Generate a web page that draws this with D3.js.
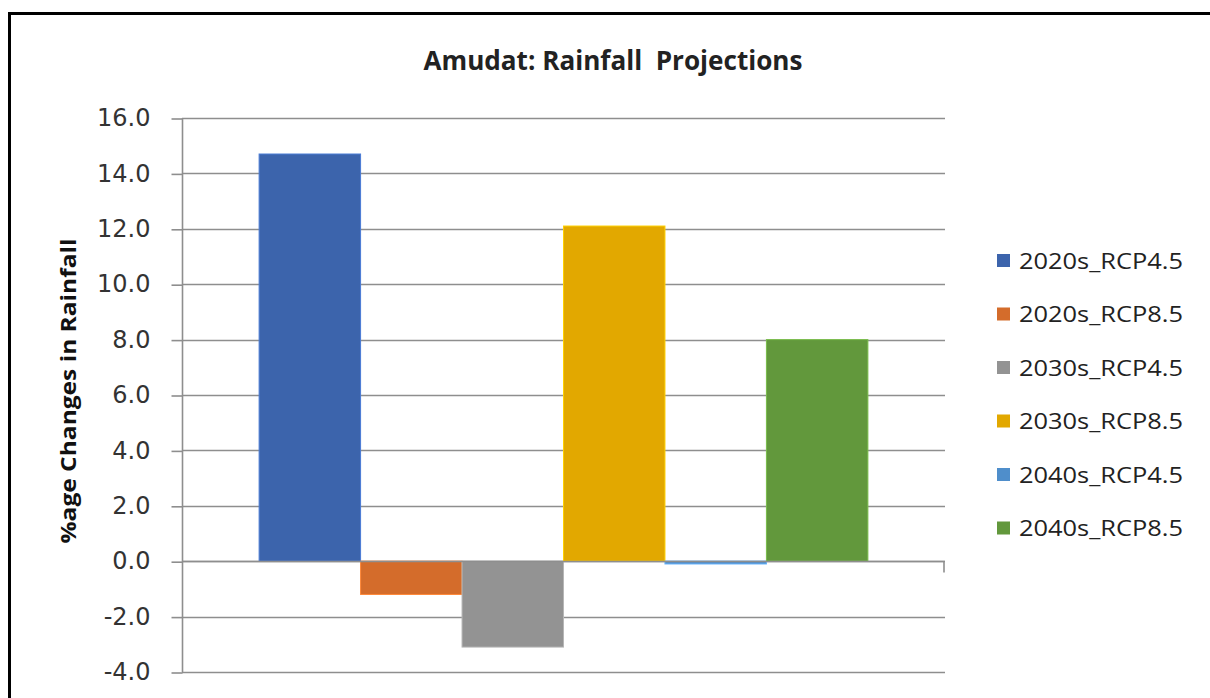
<!DOCTYPE html>
<html>
<head>
<meta charset="utf-8">
<script src="https://cdn.jsdelivr.net/npm/d3@7"></script>
<style>
  html, body { margin: 0; padding: 0; background: #fff; }
  svg { display: block; }
</style>
</head>
<body>
<svg id="chart" width="1210" height="698"></svg>
<script>
// Projected % change in rainfall for Amudat, one value per period/scenario
const categories = ["Amudat"];
const seriesNames = ["2020s_RCP4.5", "2020s_RCP8.5", "2030s_RCP4.5", "2030s_RCP8.5", "2040s_RCP4.5", "2040s_RCP8.5"];
const seriesValues = [14.7, -1.2, -3.1, 12.1, -0.1, 8.0];
const seriesColors = ["#3c64ac", "#d46c2b", "#939393", "#e2a800", "#4f8ecb", "#62983c"];
const yTicks = [-4, -2, 0, 2, 4, 6, 8, 10, 12, 14, 16];

const svg = d3.select("#chart");

// frame around the whole chart
svg.append("path")
  .attr("d", "M9.5,720 V13.5 H1230")
  .attr("fill", "none")
  .attr("stroke", "#000")
  .attr("stroke-width", 3);

const plot = { left: 182, right: 945, top: 118, bottom: 672 };

const y = d3.scaleLinear().domain([-4, 16]).range([plot.bottom, plot.top]);
const x0 = d3.scaleBand().domain(categories).range([plot.left, plot.right]).padding(0);
const x1 = d3.scaleBand().domain(seriesNames).range([0, x0.bandwidth()])
  .paddingInner(0).paddingOuter(0.76);

// horizontal gridlines
svg.append("g")
  .selectAll("line")
  .data(yTicks)
  .join("line")
  .attr("x1", plot.left).attr("x2", plot.right)
  .attr("y1", d => Math.round(y(d)) + 0.5).attr("y2", d => Math.round(y(d)) + 0.5)
  .attr("stroke", "#8e8e8e")
  .attr("stroke-width", 1.6);

// value axis (plain hyphen for negatives, one decimal)
const yAxis = d3.axisLeft(y)
  .tickValues(yTicks)
  .tickFormat(d => d.toFixed(1))
  .tickSize(11)
  .tickPadding(21);

const yg = svg.append("g")
  .attr("transform", `translate(${plot.left + 0.5},0)`)
  .call(yAxis);
yg.select(".domain").attr("stroke", "#8e8e8e").attr("stroke-width", 1.6)
  .attr("d", `M0,${plot.top}V${plot.bottom}`);
yg.selectAll(".tick line").attr("stroke", "#8e8e8e").attr("stroke-width", 1.6)
  .attr("transform", "translate(0,0.5)");
yg.selectAll(".tick text")
  .attr("fill", "#333")
  .style("font-family", "'DejaVu Sans', Verdana, sans-serif")
  .style("font-size", "24px");

// bars
const group = svg.append("g")
  .selectAll("g")
  .data(categories)
  .join("g")
  .attr("transform", d => `translate(${x0(d)},0)`);

group.selectAll("rect")
  .data(() => seriesNames.map((s, i) => ({ name: s, value: seriesValues[i], color: seriesColors[i] })))
  .join("rect")
  .attr("x", d => x1(d.name))
  .attr("width", x1.bandwidth())
  .attr("y", d => y(Math.max(0, d.value)))
  .attr("height", d => Math.abs(y(d.value) - y(0)))
  .attr("fill", d => d.color)
  .attr("stroke", d => d3.color(d.color).brighter(0.6))
  .attr("stroke-width", 1);

// category axis along zero, with its boundary tick on the right
const xAxisY = Math.round(y(0)) + 0.5;
svg.append("path")
  .attr("d", `M${plot.left},${xAxisY}H${plot.right - 1}V${xAxisY + 11}`)
  .attr("fill", "none")
  .attr("stroke", "#8e8e8e")
  .attr("stroke-width", 1.6);

// title
svg.append("text")
  .attr("x", 613)
  .attr("y", 70)
  .attr("text-anchor", "middle")
  .attr("textLength", 379)
  .attr("lengthAdjust", "spacingAndGlyphs")
  .style("white-space", "pre")
  .style("font-family", "'Open Sans', sans-serif")
  .style("font-weight", "bold")
  .style("font-size", "26px")
  .attr("fill", "#222")
  .text("Amudat: Rainfall  Projections");

// value axis title
svg.append("text")
  .attr("transform", "translate(76,391) rotate(-90)")
  .attr("text-anchor", "middle")
  .attr("textLength", 305)
  .attr("lengthAdjust", "spacingAndGlyphs")
  .style("font-family", "'Open Sans', sans-serif")
  .style("font-weight", "bold")
  .style("font-size", "22px")
  .attr("fill", "#111")
  .text("%age Changes in Rainfall");

// legend
const legend = svg.append("g")
  .selectAll("g")
  .data(seriesNames)
  .join("g")
  .attr("transform", (d, i) => `translate(997,${261 + i * 53.5})`);

legend.append("rect")
  .attr("x", 0).attr("y", -7)
  .attr("width", 13).attr("height", 13)
  .attr("fill", (d, i) => seriesColors[i]);

legend.append("text")
  .attr("x", 22)
  .attr("y", 7.5)
  .attr("textLength", 164)
  .attr("lengthAdjust", "spacingAndGlyphs")
  .style("font-family", "'Open Sans', sans-serif")
  .style("font-size", "21px")
  .attr("fill", "#222")
  .text(d => d);
</script>
</body>
</html>
